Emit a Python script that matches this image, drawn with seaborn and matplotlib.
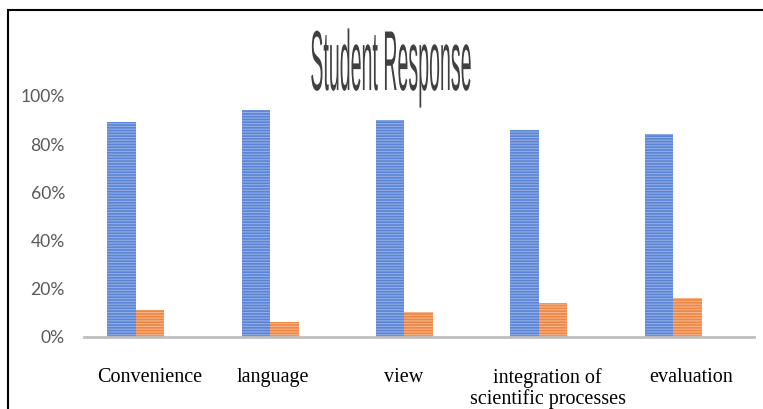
import matplotlib
matplotlib.use('Agg')
import matplotlib.pyplot as plt
import matplotlib.patheffects as pe
from matplotlib.transforms import Affine2D
from matplotlib.patches import Rectangle
import pandas as pd
import seaborn as sns

# values
categories = ['Convenience', 'language', 'view', 'integration of\nscientific processes', 'evaluation']
positive = [0.89, 0.94, 0.90, 0.86, 0.84]
negative = [0.11, 0.06, 0.10, 0.14, 0.16]
series_names = ['Yes', 'No']
ytick_vals = [0, 0.2, 0.4, 0.6, 0.8, 1.0]
ytick_labels = ['0%', '20%', '40%', '60%', '80%', '100%']

df = pd.DataFrame({
    'category': categories * 2,
    'series': [series_names[0]] * 5 + [series_names[1]] * 5,
    'value': positive + negative,
})


class Stretch(pe.AbstractPathEffect):
    # stretch the drawn text around a fixed point (title is very condensed)
    def __init__(self, sx, sy, cx, cy):
        super().__init__()
        self.t = Affine2D().translate(-cx, -cy).scale(sx, sy).translate(cx, cy)

    def draw_path(self, renderer, gc, tpath, affine, rgbFace=None):
        renderer.draw_path(gc, tpath, affine + self.t, rgbFace)


sns.set_style('white')
plt.rcParams['hatch.linewidth'] = 0.8

W, H = 763, 409
fig = plt.figure(figsize=(W / 100, H / 100), dpi=100)
ax = fig.add_axes([84 / W, (H - 336.5) / H, (754 - 84) / W, (336.5 - 96) / H])

sns.barplot(data=df, x='category', y='value', hue='series',
            palette=['#5A84D4', '#EF8644'], width=0.425, ax=ax,
            legend=False, saturation=1)
# light horizontal stripes like the reference fill
stripe_colors = ['#93AEE6', '#F7B48A']
for cont, sc in zip(ax.containers, stripe_colors):
    for bar in cont:
        bar.set_hatch('------')
        bar.set_edgecolor(sc)
        bar.set_linewidth(0)

ax.set_xlim(-0.387, 4.603)
ax.set_ylim(0, 1.0)
ax.set_yticks(ytick_vals)
ax.set_yticklabels(ytick_labels, fontfamily='Lato', fontsize=12.6, color='#595959')
ax.set_xticks(range(len(categories)))
ax.set_xticklabels(categories, fontfamily='Liberation Serif', fontsize=14.5, color='black')
ax.tick_params(axis='y', length=0, pad=13.7)
ax.tick_params(axis='x', length=0, pad=23)
ax.set_xlabel('')
ax.set_ylabel('')
for s in ['top', 'right', 'left']:
    ax.spines[s].set_visible(False)
ax.spines['bottom'].set_color('#BFBFBF')
ax.spines['bottom'].set_linewidth(2)

# labels in the reference sit a little right of the bar groups
shifts = [14, 3, -1, 9, 18]
for lbl, dx in zip(ax.get_xticklabels(), shifts):
    lbl.set_linespacing(1.02)
    lbl.set_transform(lbl.get_transform() + Affine2D().translate(dx, 0))

# title, condensed vertically like the reference
cx, cy = 391, H - 90
fig.text(cx / W, cy / H, 'Student Response', ha='center', va='baseline',
         fontfamily=['Liberation Sans Narrow', 'Liberation Sans'], fontsize=17,
         color='#404040', path_effects=[Stretch(0.83, 3.6, cx, cy)])

# chart border
fig.add_artist(Rectangle((8 / W, -0.1), 1.0, (H - 10) / H + 0.1,
                         transform=fig.transFigure, fill=False,
                         edgecolor='black', linewidth=1.5))

fig.savefig('out.png', dpi=100)
